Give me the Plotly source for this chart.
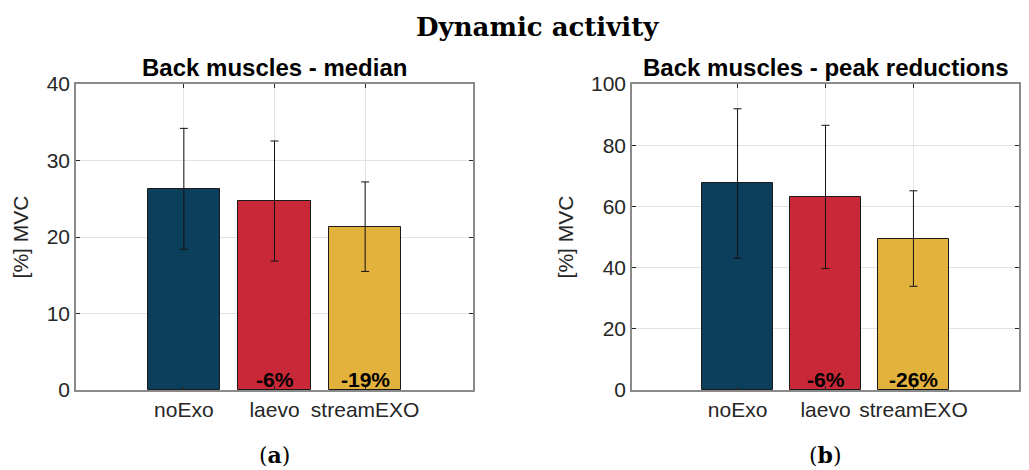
import plotly.graph_objects as go

# Conditions shown on the x axis
categories = ["noExo", "laevo", "streamEXO"]
bar_colors = ["#0b3f5b", "#c92838", "#e2b23d"]

# Panel (a): median activity of back muscles, [%] MVC
median_values = [26.3, 24.7, 21.35]
median_err = [7.9, 7.85, 5.85]
median_change = ["", "-6%", "-19%"]

# Panel (b): peak activity of back muscles, [%] MVC
peak_values = [67.5, 63.1, 49.5]
peak_err = [24.4, 23.4, 15.6]
peak_change = ["", "-6%", "-26%"]

positions = [1, 2, 3]

W, H = 1029, 470
SANS = "Liberation Sans, Arial"
fig = go.Figure()

def px_x(p):
    return p / W

def px_y(p):
    return 1 - p / H

panels = [
    dict(x="x", y="y", vals=median_values, err=median_err, chg=median_change,
         dom=[px_x(76), px_x(473)], yr=[0, 40], dt=10,
         title="Back muscles - median", tag="<b>a</b>"),
    dict(x="x2", y="y2", vals=peak_values, err=peak_err, chg=peak_change,
         dom=[px_x(632), px_x(1019)], yr=[0, 100], dt=20,
         title="Back muscles - peak reductions", tag="<b>b</b>"),
]

for i, p in enumerate(panels):
    fig.add_trace(go.Bar(
        x=positions, y=p["vals"], width=0.8,
        marker=dict(color=bar_colors, line=dict(color="#1a1a1a", width=1)),
        error_y=dict(type="data", array=p["err"], visible=True,
                     color="#111111", thickness=1, width=4),
        xaxis=p["x"], yaxis=p["y"], showlegend=False, hoverinfo="skip",
    ))
    # percentage change labels at the foot of the bars
    for pos, txt in zip(positions, p["chg"]):
        if txt:
            fig.add_annotation(
                x=pos, y=0, xref=p["x"], yref=p["y"], text="<b>" + txt + "</b>",
                showarrow=False, yanchor="bottom", yshift=-3,
                font=dict(family=SANS, size=21, color="#000000"),
            )
    cx = (p["dom"][0] + p["dom"][1]) / 2
    fig.add_annotation(
        x=cx, y=px_y(67), xref="paper", yref="paper", text="<b>" + p["title"] + "</b>",
        showarrow=False, xanchor="center", yanchor="middle",
        font=dict(family=SANS, size=24, color="#000000"),
    )
    fig.add_annotation(
        x=cx, y=px_y(455), xref="paper", yref="paper", text="(" + p["tag"] + ")",
        showarrow=False, xanchor="center", yanchor="middle",
        font=dict(family="DejaVu Serif, serif", size=22, color="#000000"),
    )

axis_common = dict(
    showline=True, linecolor="#8a8a8a", linewidth=1.5, mirror="ticks",
    ticks="inside", ticklen=4, tickcolor="#262626",
    showgrid=True, gridcolor="#e3e3e3", gridwidth=1, zeroline=False,
    automargin=False,
    tickfont=dict(family=SANS, size=21, color="#262626"),
)

ytitle = dict(text="[%] MVC", standoff=12, font=dict(family=SANS, size=21, color="#262626"))

ydom = [px_y(390), px_y(84)]
fig.update_layout(
    width=W, height=H, margin=dict(l=0, r=0, t=0, b=0, autoexpand=False),
    paper_bgcolor="white", plot_bgcolor="white",
    bargap=0,
    xaxis=dict(domain=panels[0]["dom"], range=[-0.19, 4.19], tickvals=positions,
               ticktext=categories, anchor="y", **axis_common),
    yaxis=dict(domain=ydom, range=panels[0]["yr"], dtick=panels[0]["dt"], anchor="x",
               title=ytitle, **axis_common),
    xaxis2=dict(domain=panels[1]["dom"], range=[-0.2, 4.2], tickvals=positions,
                ticktext=categories, anchor="y2", **axis_common),
    yaxis2=dict(domain=ydom, range=panels[1]["yr"], dtick=panels[1]["dt"], anchor="x2",
                title=ytitle, **axis_common),
)

fig.add_annotation(
    x=0.522, y=px_y(27), xref="paper", yref="paper", text="<b>Dynamic activity</b>",
    showarrow=False, xanchor="center", yanchor="middle",
    font=dict(family="DejaVu Serif, serif", size=26, color="#000000"),
)

fig.write_html("out.html")
